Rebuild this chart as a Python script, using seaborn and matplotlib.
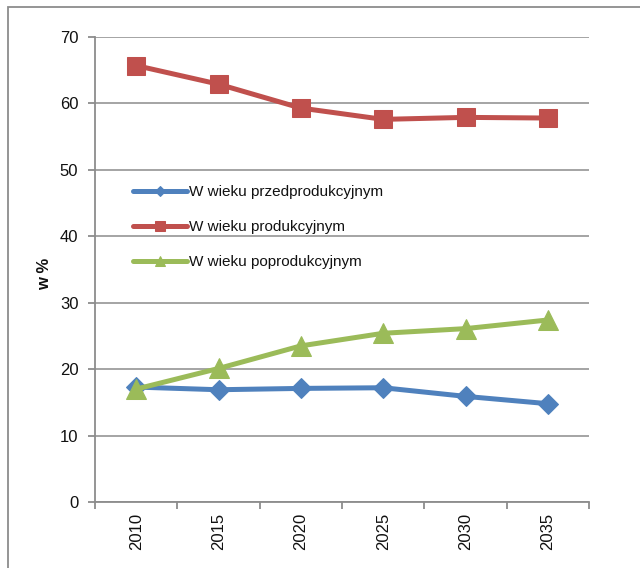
import matplotlib
matplotlib.use("Agg")
import matplotlib.pyplot as plt
from matplotlib.patches import Rectangle
import pandas as pd
import seaborn as sns

# Population structure by age group, share in %
years = ["2010", "2015", "2020", "2025", "2030", "2035"]
pre_working = [17.3, 16.9, 17.1, 17.2, 15.9, 14.8]
working = [65.7, 62.9, 59.3, 57.6, 57.9, 57.8]
post_working = [17.0, 20.1, 23.5, 25.4, 26.1, 27.4]

series_names = ["W wieku przedprodukcyjnym", "W wieku produkcyjnym", "W wieku poprodukcyjnym"]
series_values = [pre_working, working, post_working]
series_colors = ["#4F81BD", "#C0504D", "#9BBB59"]
series_markers = ["D", "s", "^"]
series_msize = [10, 13.5, 14]

y_ticks = [0, 10, 20, 30, 40, 50, 60, 70]

sns.set_style("white")
plt.rcParams["font.family"] = ["Liberation Sans", "DejaVu Sans"]

fig = plt.figure(figsize=(6.4, 5.68), dpi=100)
ax = fig.add_axes([95 / 640, 1 - 502 / 568, 494 / 640, 465 / 568])

grid_col = "#8C8C8C"

for name, vals, col, mk, ms in zip(series_names, series_values, series_colors,
                                   series_markers, series_msize):
    df = pd.DataFrame({"rok": years, "wartosc": vals})
    sns.lineplot(data=df, x="rok", y="wartosc", ax=ax, color=col, linewidth=3.6,
                 marker=mk, markersize=ms, markeredgecolor=col, label=name,
                 zorder=3)

ax.set_xlim(-0.5, len(years) - 0.5)
ax.set_ylim(0, 70)
ax.set_yticks(y_ticks)
ax.set_yticklabels([str(v) for v in y_ticks])
ax.set_xticks(range(len(years)))
ax.set_xticklabels(years, rotation=90)
ax.set_xticks([i - 0.5 for i in range(len(years) + 1)], minor=True)

ax.grid(axis="y", color=grid_col, linewidth=1.1)
ax.set_axisbelow(True)
for side in ["top", "right"]:
    ax.spines[side].set_visible(False)
for side in ["left", "bottom"]:
    ax.spines[side].set_color(grid_col)
    ax.spines[side].set_linewidth(1.3)

ax.tick_params(axis="y", which="major", length=5, width=1.3, color=grid_col,
               pad=7, labelsize=12, labelcolor="#111111", left=True)
ax.tick_params(axis="x", which="major", length=0, pad=8, labelsize=12,
               labelcolor="#111111")
ax.tick_params(axis="x", which="minor", length=5, width=1.3, color=grid_col,
               bottom=True, direction="out")

ax.set_xlabel("")
ax.set_ylabel("w %", fontsize=12, fontweight="bold", color="#111111")
ax.yaxis.set_label_coords(-0.087, 0.49)

leg = ax.legend(loc="upper left", bbox_to_anchor=(0.077, 0.682), frameon=False,
                fontsize=11, markerscale=0.55, handlelength=3.5,
                handletextpad=0.15, labelspacing=1.38, borderpad=0,
                borderaxespad=0)
for t in leg.get_texts():
    t.set_color("#111111")

# Outer chart frame
fig.patches.append(Rectangle((8 / 640, -0.1), 1.2, 1 - 7 / 568 + 0.1,
                             transform=fig.transFigure, fill=False,
                             edgecolor=grid_col, linewidth=1.3))

fig.savefig("out.png", dpi=100)
